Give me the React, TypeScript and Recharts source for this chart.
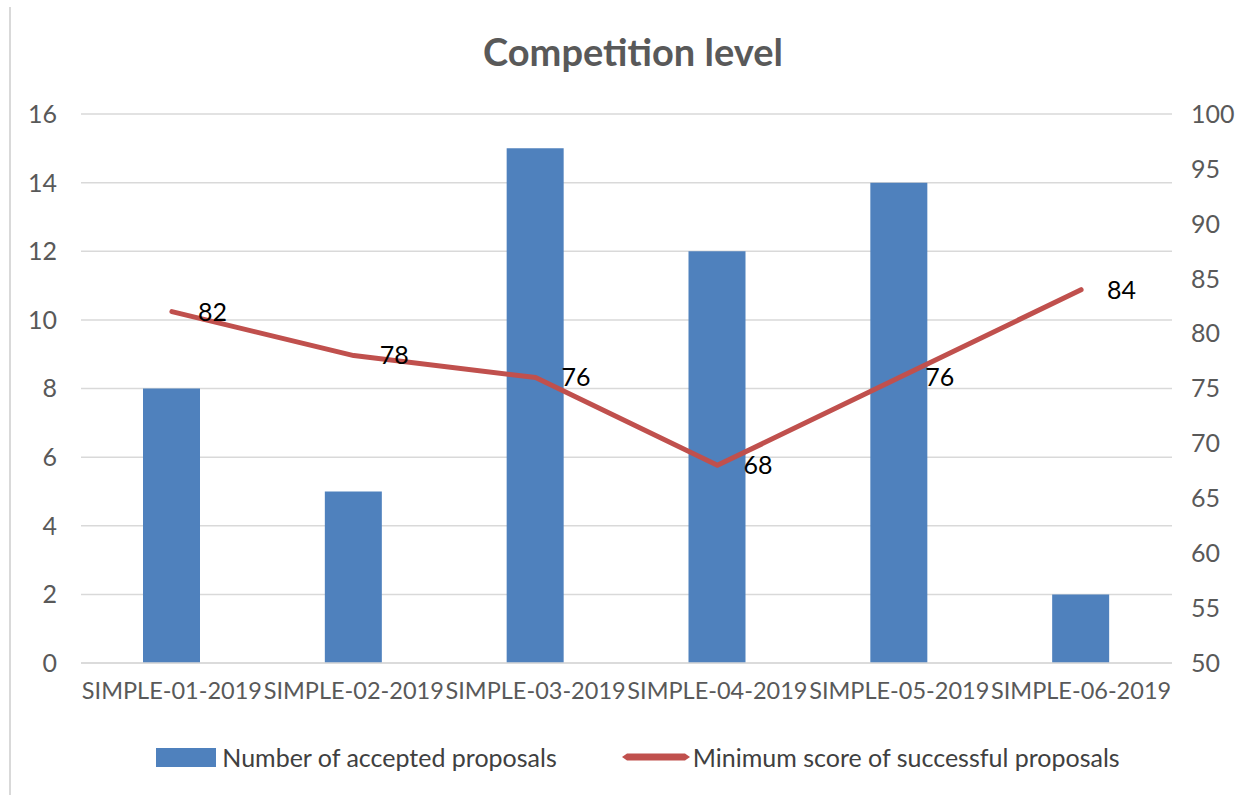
import { ComposedChart, Bar, Line, XAxis, YAxis, CartesianGrid, LabelList } from 'recharts'

// Calls and their results
const calls = [
  'SIMPLE-01-2019',
  'SIMPLE-02-2019',
  'SIMPLE-03-2019',
  'SIMPLE-04-2019',
  'SIMPLE-05-2019',
  'SIMPLE-06-2019',
]
const acceptedProposals = [8, 5, 15, 12, 14, 2]
const minimumScores = [82, 78, 76, 68, 76, 84]

const countTicks = [0, 2, 4, 6, 8, 10, 12, 14, 16]
const scoreTicks = [50, 55, 60, 65, 70, 75, 80, 85, 90, 95, 100]

const rows = calls.map((call, i) => ({
  call,
  accepted: acceptedProposals[i],
  score: minimumScores[i],
}))

const FONT = 'Lato, "Open Sans", sans-serif'
const BLUE = '#4F81BD'
const RED = '#C0504D'
const GRID = '#D9D9D9'
const AXIS_TEXT = '#595959'

const tickStyle = { fill: AXIS_TEXT, fontSize: 25, fontFamily: FONT }

function LegendRow() {
  return (
    <div
      style={{
        position: 'absolute',
        left: 20,
        top: 743,
        width: 1236,
        height: 28,
        display: 'flex',
        justifyContent: 'center',
        alignItems: 'center',
        fontFamily: FONT,
        fontSize: 25,
        color: '#404040',
      }}
    >
      <span style={{ display: 'inline-block', width: 60, height: 19, background: BLUE, marginRight: 6 }} />
      <span>Number of accepted proposals</span>
      <svg width={70} height={20} style={{ marginLeft: 64, marginRight: 2 }}>
        <polygon points="1,10 6,6.5 64,6.5 69,10 64,13.5 6,13.5" fill={RED} />
      </svg>
      <span>Minimum score of successful proposals</span>
    </div>
  )
}

export default function App() {
  return (
    <div
      style={{
        position: 'absolute',
        left: 0,
        top: 0,
        width: 1236,
        height: 795,
        background: '#fff',
        overflow: 'hidden',
      }}
    >
      {/* chart area border, left edge */}
      <div style={{ position: 'absolute', left: 9, top: 7, width: 2, bottom: 0, background: GRID }} />

      <div
        style={{
          position: 'absolute',
          left: 0,
          top: 29,
          width: 1266,
          textAlign: 'center',
          fontFamily: FONT,
          fontWeight: 700,
          fontSize: 38,
          lineHeight: '44px',
          color: AXIS_TEXT,
        }}
      >
        Competition level
      </div>

      <div style={{ position: 'absolute', left: 0, top: 0 }}>
        <ComposedChart
          width={1236}
          height={795}
          data={rows}
          margin={{ top: 114, right: 0, bottom: 72, left: 0 }}
        >
          <CartesianGrid yAxisId="left" vertical={false} stroke={GRID} strokeWidth={1.5} />
          <XAxis
            dataKey="call"
            interval={0}
            height={60}
            tickLine={false}
            tickMargin={13}
            axisLine={{ stroke: GRID, strokeWidth: 1.5 }}
            tick={{ ...tickStyle, fontSize: 23.5 }}
          />
          <YAxis
            yAxisId="left"
            orientation="left"
            width={81}
            domain={[0, 16]}
            ticks={countTicks}
            tickLine={false}
            axisLine={false}
            tickMargin={18}
            tick={tickStyle}
          />
          <YAxis
            yAxisId="right"
            orientation="right"
            width={64}
            domain={[50, 100]}
            ticks={scoreTicks}
            tickLine={false}
            axisLine={false}
            tickMargin={13}
            tick={{ ...tickStyle, textAnchor: 'start' }}
          />
          <Bar yAxisId="left" dataKey="accepted" fill={BLUE} barSize={57} isAnimationActive={false} />
          <Line
            yAxisId="right"
            dataKey="score"
            type="linear"
            stroke={RED}
            strokeWidth={5}
            strokeLinejoin="round"
            strokeLinecap="round"
            dot={false}
            activeDot={false}
            isAnimationActive={false}
          >
            <LabelList
              dataKey="score"
              position="right"
              offset={26}
              fill="#000"
              fontSize={25}
              fontFamily={FONT}
            />
          </Line>
        </ComposedChart>
      </div>

      <LegendRow />
    </div>
  )
}
